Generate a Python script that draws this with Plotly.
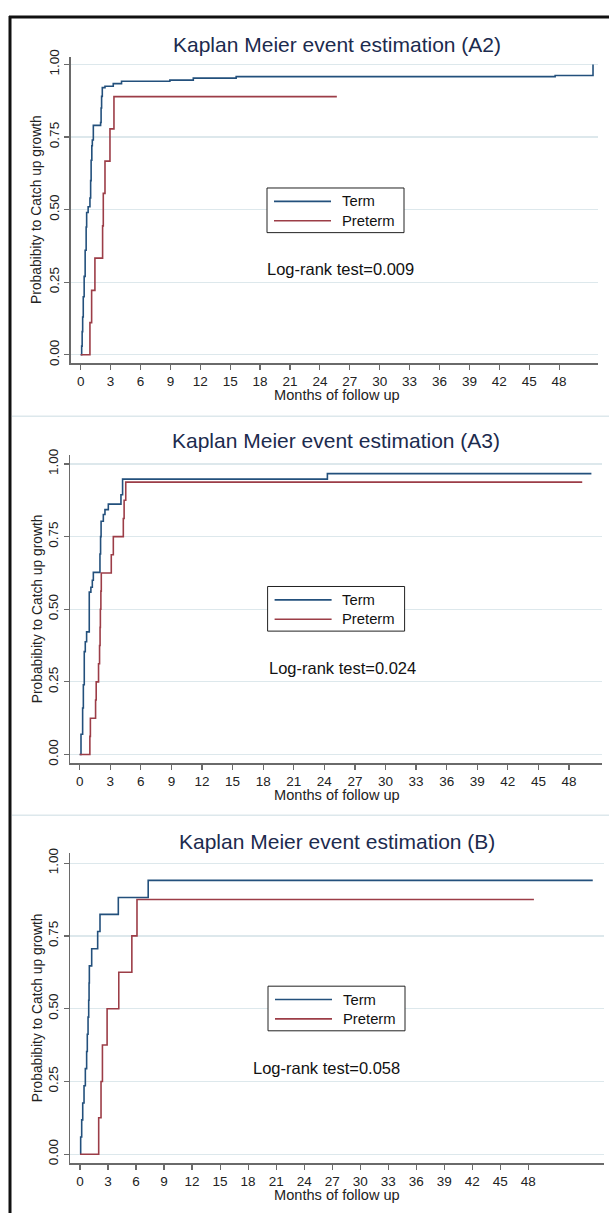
import plotly.graph_objects as go

# ---------------- data ----------------
months_ticks = list(range(0, 49, 3))
prob_ticks = [0, 0.25, 0.5, 0.75, 1.0]
prob_ticktext = ["0.00", "0.25", "0.50", "0.75", "1.00"]

titles = ["Kaplan Meier event estimation (A2)",
          "Kaplan Meier event estimation (A3)",
          "Kaplan Meier event estimation (B)"]
logrank = ["Log-rank test=0.009", "Log-rank test=0.024", "Log-rank test=0.058"]
groups = ["Term", "Preterm"]

# Panel A2
a2_term_t = [0, 0.10, 0.15, 0.20, 0.26, 0.35, 0.45, 0.55, 0.60, 0.75, 0.93, 1.00, 1.05, 1.12,
             1.17, 1.27, 2.00, 2.05, 2.10, 2.17, 2.44, 3.27, 4.10, 8.95, 11.3, 15.6, 47.6, 51.4]
a2_term_p = [0, 0.03, 0.08, 0.13, 0.20, 0.27, 0.36, 0.44, 0.49, 0.51, 0.54, 0.60, 0.67, 0.72,
             0.74, 0.79, 0.80, 0.85, 0.89, 0.92, 0.925, 0.934, 0.942, 0.946, 0.953, 0.958, 0.962, 1.0]
a2_pre_t = [0, 0.93, 1.10, 1.43, 2.20, 2.27, 2.44, 2.94, 3.34, 25.7]
a2_pre_p = [0, 0.111, 0.222, 0.333, 0.444, 0.556, 0.667, 0.778, 0.889, 0.889]

# Panel A3
a3_term_t = [0, 0.13, 0.29, 0.36, 0.45, 0.55, 0.68, 0.94, 1.10, 1.24, 1.34, 1.99, 2.05, 2.10,
             2.32, 2.48, 2.81, 4.05, 4.21, 24.3, 50.2]
a3_term_p = [0, 0.07, 0.16, 0.24, 0.354, 0.388, 0.422, 0.559, 0.576, 0.60, 0.627, 0.69, 0.75, 0.803,
             0.826, 0.843, 0.862, 0.894, 0.948, 0.967, 0.967]
a3_pre_t = [0, 1.00, 1.05, 1.56, 1.62, 1.85, 1.95, 2.00, 2.03, 2.08, 2.12, 3.10, 3.30, 4.28, 4.36,
            4.52, 49.3]
a3_pre_p = [0, 0.0625, 0.125, 0.1875, 0.25, 0.3125, 0.375, 0.4375, 0.5, 0.5625, 0.625, 0.6875,
            0.75, 0.8125, 0.875, 0.9375, 0.9375]

# Panel B
b_term_t = [0, 0.07, 0.18, 0.29, 0.43, 0.57, 0.71, 0.78, 0.86, 0.93, 0.97, 1.00, 1.25, 1.89, 2.14,
            4.10, 7.30, 54.9]
b_term_p = [0, 0.059, 0.118, 0.176, 0.235, 0.294, 0.353, 0.412, 0.471, 0.529, 0.588, 0.647, 0.706,
            0.765, 0.824, 0.882, 0.941, 0.941]
b_pre_t = [0, 2.00, 2.25, 2.40, 2.90, 4.15, 5.55, 6.10, 48.6]
b_pre_p = [0, 0.125, 0.25, 0.375, 0.5, 0.625, 0.75, 0.875, 0.875]

# ---------------- styling / layout ----------------
W, H = 609, 1216
FONT = "Liberation Sans, Arial, Helvetica, sans-serif"
COLORS = ["#23507c", "#9c3d47"]
TITLE_COLOR = "#1c2b4e"
AXIS_COLOR = "#6a6a6a"
GRID_COLOR = "#dde8ec"


def px(x):
    return x / W


def py(y):
    return 1 - y / H


panels = [
    dict(series=[(a2_term_t, a2_term_p), (a2_pre_t, a2_pre_p)],
         xdom=(70.7, 598.3), ydom=(50.0, 359.3), xrange=(-1.0, 51.93), yrange=(-0.0294, 1.027),
         title_y=38.0, title_x=337, lr=(340, 264.3), leg=(267, 182.5), xt_y=391.2, yt_y=204.6),
    dict(series=[(a3_term_t, a3_term_p), (a3_pre_t, a3_pre_p)],
         xdom=(70.3, 601.6), ydom=(451.7, 762.7), xrange=(-0.92, 51.2), yrange=(-0.0307, 1.031),
         title_y=436.7, title_x=336, lr=(342, 666.7), leg=(267.6, 584.3), xt_y=794.5, yt_y=607.2),
    dict(series=[(b_term_t, b_term_p), (b_pre_t, b_pre_p)],
         xdom=(70.3, 603.5), ydom=(853.3, 1165.7), xrange=(-1.04, 56.05), yrange=(-0.0307, 1.034),
         title_y=841.7, title_x=337, lr=(326.6, 1069.3), leg=(268, 987.3), xt_y=1198.0, yt_y=1009.5),
]

fig = go.Figure()
annotations = []
shapes = []
layout_extra = {}

for i, pnl in enumerate(panels):
    n = i + 1
    sfx = "" if n == 1 else str(n)
    for (t, p), name, col in zip(pnl["series"], groups, COLORS):
        fig.add_trace(go.Scatter(
            x=t, y=p, mode="lines", name=name, line=dict(color=col, width=1.6, shape="hv"),
            xaxis=f"x{sfx}", yaxis=f"y{sfx}", showlegend=False, hoverinfo="skip"))

    layout_extra[f"xaxis{sfx}"] = dict(
        domain=[px(pnl["xdom"][0]), px(pnl["xdom"][1])], range=list(pnl["xrange"]),
        anchor=f"y{sfx}", tickmode="array", tickvals=months_ticks,
        ticktext=[str(v) for v in months_ticks], showgrid=False, zeroline=False,
        showline=True, linecolor=AXIS_COLOR, linewidth=1.5, ticks="outside", ticklen=5,
        tickcolor=AXIS_COLOR, tickwidth=1.2, tickfont=dict(family=FONT, size=13.5, color="#222"),
        fixedrange=True)
    layout_extra[f"yaxis{sfx}"] = dict(
        domain=[py(pnl["ydom"][1]), py(pnl["ydom"][0])], range=list(pnl["yrange"]),
        anchor=f"x{sfx}", tickmode="array", tickvals=prob_ticks, ticktext=prob_ticktext,
        tickangle=-90, showgrid=True, gridcolor=GRID_COLOR, gridwidth=1.2, zeroline=False,
        showline=True, linecolor=AXIS_COLOR, linewidth=1.5, ticks="outside", ticklen=5,
        tickcolor=AXIS_COLOR, tickwidth=1.2, tickfont=dict(family=FONT, size=13.5, color="#222"),
        fixedrange=True)

    # legend box (drawn in paper space so it matches the reference's compact Stata legend)
    lx, ly = pnl["leg"]
    shapes.append(dict(type="rect", xref="paper", yref="paper", x0=px(lx), x1=px(lx + 137),
                       y0=py(ly), y1=py(ly + 45), line=dict(color="#222", width=1),
                       fillcolor="white", layer="above"))
    for k, (name, col) in enumerate(zip(groups, COLORS)):
        yy = ly + 13.5 + k * 19.5
        shapes.append(dict(type="line", xref="paper", yref="paper", x0=px(lx + 7), x1=px(lx + 64),
                           y0=py(yy), y1=py(yy), line=dict(color=col, width=1.6), layer="above"))
        annotations.append(dict(text=name, x=px(lx + 72.5), y=py(yy), xref="paper", yref="paper",
                                xanchor="left", yanchor="middle", showarrow=False,
                                font=dict(family=FONT, size=14.8, color="#111")))

    annotations.append(dict(text=titles[i], x=px(pnl["title_x"]), y=py(pnl["title_y"]),
                            xref="paper", yref="paper", xanchor="center", yanchor="middle",
                            showarrow=False, font=dict(family=FONT, size=21, color=TITLE_COLOR)))
    annotations.append(dict(text=logrank[i], x=px(pnl["lr"][0]), y=py(pnl["lr"][1]),
                            xref="paper", yref="paper", xanchor="center", yanchor="middle",
                            showarrow=False, font=dict(family=FONT, size=16.5, color="#111")))
    annotations.append(dict(text="Months of follow up", x=px(336.7), y=py(pnl["xt_y"]),
                            xref="paper", yref="paper", xanchor="center", yanchor="middle",
                            showarrow=False, font=dict(family=FONT, size=14.6, color="#222")))
    annotations.append(dict(text="Probabibity to Catch up growth", x=px(37), y=py(pnl["yt_y"]),
                            xref="paper", yref="paper", xanchor="center", yanchor="middle",
                            textangle=-90, showarrow=False,
                            font=dict(family=FONT, size=13.8, color="#222")))

shapes += [
    # outer frame (left and top)
    dict(type="line", xref="paper", yref="paper", x0=px(10), x1=px(10), y0=py(9), y1=py(1216),
         line=dict(color="#111", width=3)),
    dict(type="line", xref="paper", yref="paper", x0=px(9), x1=px(609), y0=py(10), y1=py(10),
         line=dict(color="#111", width=3)),
    # separators between panels
    dict(type="line", xref="paper", yref="paper", x0=px(12), x1=px(609), y0=py(412.7), y1=py(412.7),
         line=dict(color=GRID_COLOR, width=1.5)),
    dict(type="line", xref="paper", yref="paper", x0=px(12), x1=px(609), y0=py(815), y1=py(815),
         line=dict(color=GRID_COLOR, width=1.5)),
]

fig.update_layout(
    width=W, height=H, autosize=False, margin=dict(l=0, r=0, t=0, b=0, pad=0),
    paper_bgcolor="white", plot_bgcolor="white", showlegend=False,
    font=dict(family=FONT, color="#222"), annotations=annotations, shapes=shapes,
    **layout_extra)

fig.write_html("out.html",
               config={"displayModeBar": False, "staticPlot": True},
               post_script="document.body.style.margin='0';"
                           "document.documentElement.style.overflow='hidden';")
